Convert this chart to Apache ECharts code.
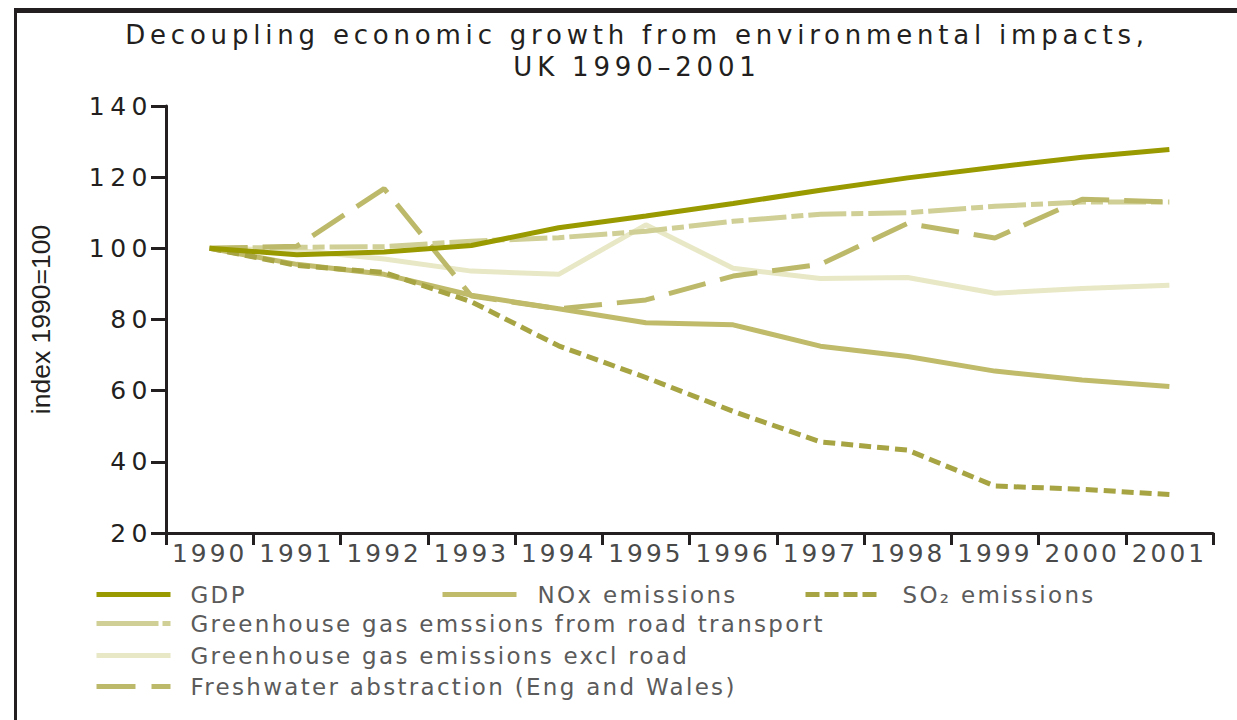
<!DOCTYPE html>
<html>
<head>
<meta charset="utf-8">
<title>Decoupling economic growth from environmental impacts</title>
<script src="https://cdn.jsdelivr.net/npm/echarts@6/dist/echarts.min.js"></script>
<style>
  html, body { margin: 0; padding: 0; background: #fff; }
  #chart { width: 1237px; height: 720px; }
  /* the original lettering is set very wide */
  #chart text[style*="26px"] { letter-spacing: 4.8px; }
  #chart text[style*="25px"] { letter-spacing: 5.5px; }
  #chart text[style*="24.8px"] { letter-spacing: 3px; }
  #chart text[style*="23px"] { letter-spacing: 2.3px; }
</style>
</head>
<body>
<div id="chart"></div>
<script>
// index, 1990 = 100
const years = ['1990', '1991', '1992', '1993', '1994', '1995', '1996', '1997', '1998', '1999', '2000', '2001'];
const gdp = [100, 98.2, 99, 100.8, 105.8, 109.1, 112.6, 116.3, 119.8, 122.8, 125.6, 127.8];
const nox = [100, 95.5, 92.7, 86.8, 83, 79.1, 78.5, 72.5, 69.6, 65.5, 63, 61.2];
const so2 = [100, 95.2, 93.2, 85, 72.6, 63.7, 54.2, 45.6, 43.3, 33.2, 32.3, 30.8];
const ghgRoad = [100, 100.3, 100.5, 102, 103, 104.8, 107.6, 109.6, 110, 111.8, 113, 113];
const ghgExclRoad = [100, 99.5, 97, 93.6, 92.7, 106.6, 94.4, 91.5, 91.8, 87.4, 88.7, 89.6];
const freshwater = [100, 100.6, 116.8, 86.6, 83, 85.5, 92.2, 95.5, 107, 102.9, 113.8, 113];

const yMin = 20, yMax = 140, yStep = 20;

const ink = '#231f20';
const font = 'DejaVu Sans';

const chart = echarts.init(document.getElementById('chart'), null, {
  renderer: 'svg'
});

function line(name, data, color, width, dash) {
  return {
    name: name,
    type: 'line',
    data: data,
    symbol: 'none',
    silent: true,
    itemStyle: { color: color },
    lineStyle: { color: color, width: width, type: dash || 'solid', cap: 'butt' }
  };
}

function legendAt(name, left, top, gap, dash) {
  const lineStyle = { width: 5 };
  if (dash) lineStyle.type = dash;
  return {
    data: [name],
    left: left,
    top: top,
    padding: 0,
    itemWidth: 74,
    itemHeight: 14,
    selectedMode: false,
    // line only, no marker in the middle
    itemStyle: { opacity: 0 },
    lineStyle: lineStyle,
    textStyle: { fontFamily: font, fontSize: 23, color: '#5b5b5b', padding: [0, 0, 0, gap] }
  };
}

chart.setOption({
  animation: false,
  backgroundColor: '#fff',
  title: {
    text: 'Decoupling economic growth from environmental impacts,\nUK 1990\u20132001',
    left: 632,
    top: 14,
    textAlign: 'center',
    textStyle: { fontFamily: font, fontSize: 26, fontWeight: 'normal', color: ink, lineHeight: 32 }
  },
  graphic: [
    { type: 'rect', shape: { x: 14, y: 8, width: 1223, height: 5 }, style: { fill: ink } },
    { type: 'rect', shape: { x: 14, y: 8, width: 3, height: 712 }, style: { fill: ink } }
  ],
  grid: { left: 166, right: 24, top: 106, bottom: 187, outerBoundsMode: 'none' },
  legend: [
    legendAt('GDP', 94, 583, 15),
    legendAt('NOx emissions', 440, 583, 16),
    legendAt('SO\u2082 emissions', 803, 583, 18, [14, 5]),
    legendAt('Greenhouse gas emssions from road transport', 94, 612, 15, [62, 4, 8, 20]),
    legendAt('Greenhouse gas emissions excl road', 94, 644, 15),
    legendAt('Freshwater abstraction (Eng and Wales)', 94, 675, 15, [39, 16])
  ],
  xAxis: {
    type: 'category',
    data: years,
    boundaryGap: true,
    axisLine: { lineStyle: { color: ink, width: 3 } },
    axisTick: { show: true, interval: 0, length: 12, lineStyle: { color: ink, width: 3 } },
    axisLabel: { interval: 0, margin: 8, fontFamily: font, fontSize: 24.8, color: '#4a4a4a' },
    splitLine: { show: false }
  },
  yAxis: {
    type: 'value',
    min: yMin,
    max: yMax,
    interval: yStep,
    name: 'index 1990=100',
    nameLocation: 'middle',
    nameRotate: 90,
    nameGap: 112,
    nameTextStyle: { fontFamily: 'Liberation Sans', fontSize: 26.5, color: ink },
    axisLine: { show: true, lineStyle: { color: ink, width: 3 } },
    axisTick: { show: true, length: 15, lineStyle: { color: ink, width: 3 } },
    axisLabel: { margin: 13, fontFamily: font, fontSize: 25, color: ink },
    splitLine: { show: false }
  },
  series: [
    line('Greenhouse gas emissions excl road', ghgExclRoad, '#e8e8c6', 5),
    line('Greenhouse gas emssions from road transport', ghgRoad, '#cfcf96', 5, [38, 5, 12, 5]),
    line('Freshwater abstraction (Eng and Wales)', freshwater, '#bdb96a', 5, [38, 15]),
    line('NOx emissions', nox, '#bfbb6b', 5),
    line('SO\u2082 emissions', so2, '#a6a443', 5, [12, 6]),
    line('GDP', gdp, '#999900', 5)
  ]
});
</script>
</body>
</html>
